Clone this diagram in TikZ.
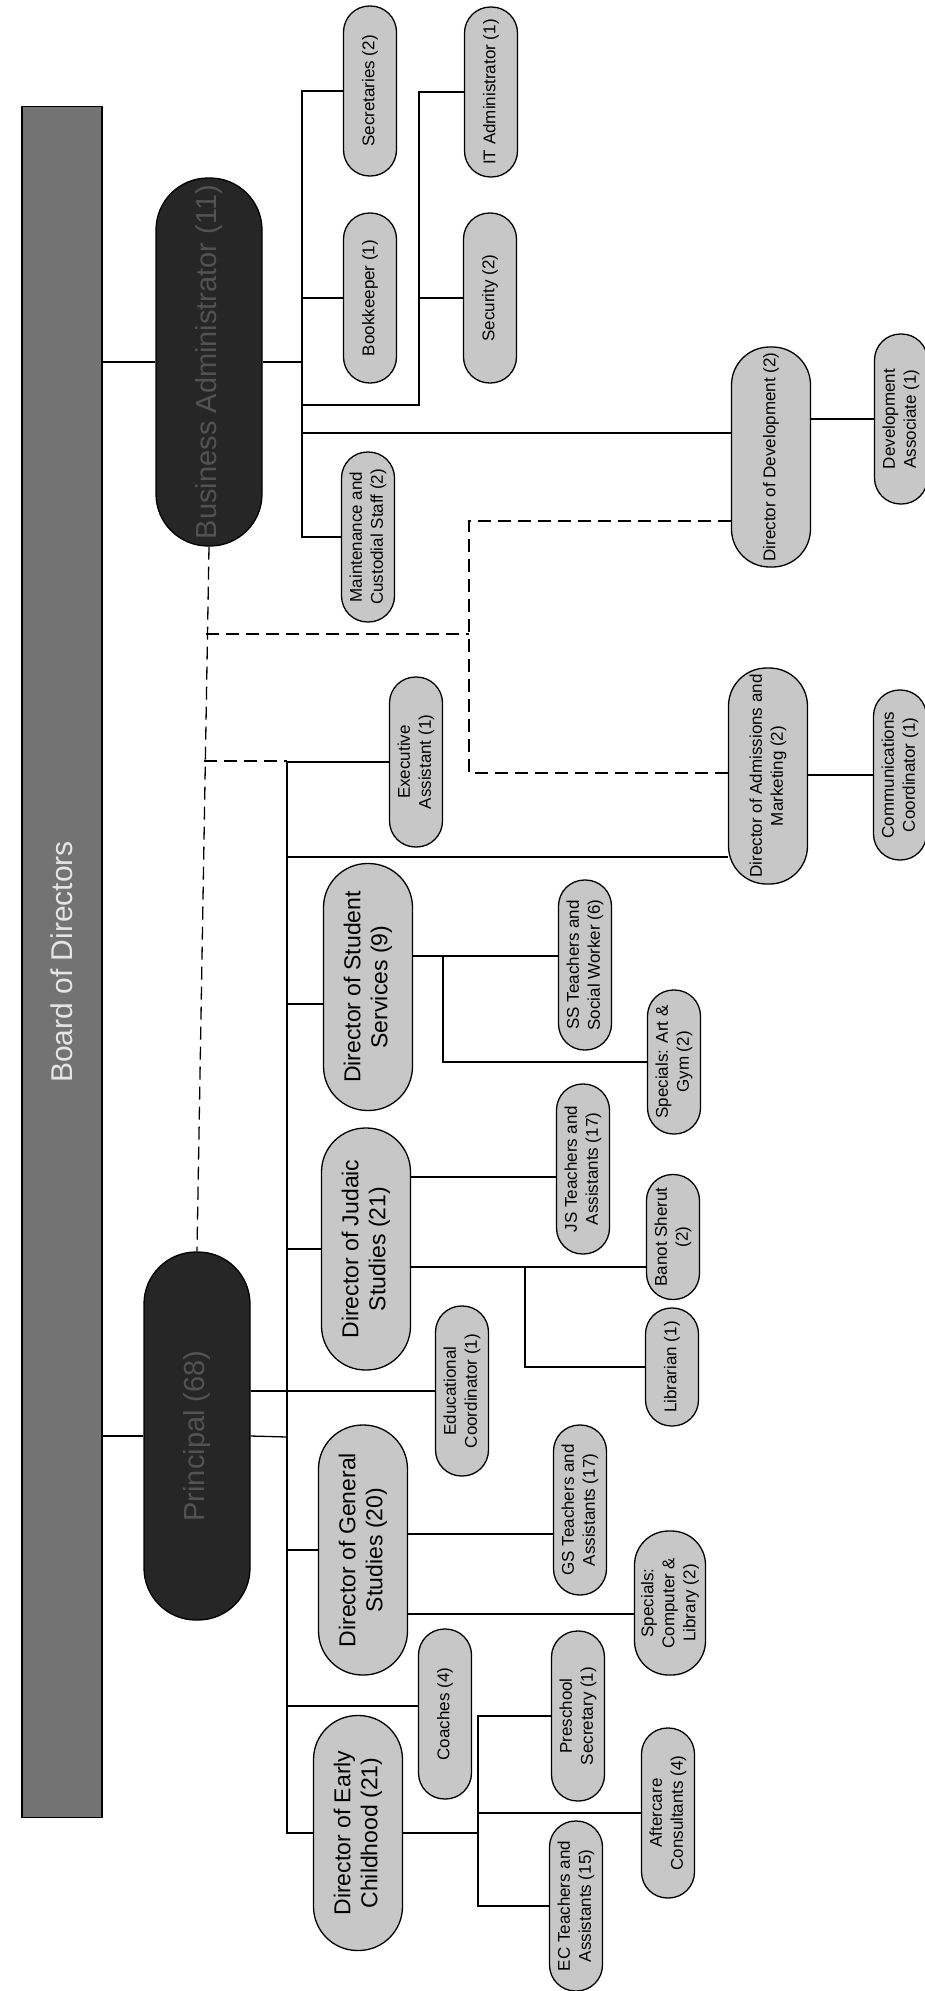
\documentclass[tikz,border=0pt]{standalone}
\usepackage{fontspec}
\setmainfont{Liberation Sans}
\usepackage{tikz}
\tikzset{
  staff/.style={draw,line width=1.3pt,fill=black!22,rotate=90,align=center,
    inner sep=1pt,rounded corners=26pt,minimum width=170pt,minimum height=53pt,
    font=\fontsize{17}{21}\selectfont},
  office/.style={staff,rounded corners=38pt,minimum width=220pt,minimum height=79pt},
  director/.style={staff,rounded corners=44pt,minimum width=247pt,minimum height=89pt,
    font=\fontsize{23}{27}\selectfont},
  chief/.style={staff,fill=black!85,text=black!68,inner sep=0pt,rounded corners=52pt,
    minimum width=368pt,minimum height=106pt,font=\fontsize{29}{33}\selectfont},
  boardbar/.style={draw,line width=1.3pt,fill=black!55,text=black!10,rotate=90,
    minimum width=1711pt,minimum height=80pt,font=\fontsize{30}{34}\selectfont},
  link/.style={line width=1.3pt},
  dashlink/.style={line width=1.3pt,dash pattern=on 13pt off 7pt}
}

\begin{document}
\begin{tikzpicture}[x=1pt,y=-1pt]
    \useasboundingbox (0,0) rectangle (924,1991);

    % board and the two heads
    \node[boardbar] (board) at (62,962) {Board of Directors};
    \node[chief] (busadmin) at (209,362) {Business Administrator (11)};
    \node[chief] (principal) at (197,1436) {Principal (68)};

    % business side
    \node[staff] (sec) at (370,91) {Secretaries (2)};
    \node[staff] (book) at (370,298) {Bookkeeper (1)};
    \node[staff] (itadmin) at (491,92) {IT Administrator (1)};
    \node[staff] (secu) at (490,298) {Security (2)};
    \node[staff] (maint) at (368,537) {Maintenance and\\Custodial Staff (2)};
    \node[office] (dirdev) at (771,457) {Director of Development (2)};
    \node[staff] (devassoc) at (901,419) {Development\\Associate (1)};
    \node[office,minimum width=216pt] (diradm) at (768,776)
        {Director of Admissions and\\Marketing (2)};
    \node[staff] (comms) at (900,775) {Communications\\Coordinator (1)};

    % school side
    \node[staff] (execasst) at (416,762) {Executive\\Assistant (1)};
    \node[director] (dirss) at (368,987) {Director of Student\\Services (9)};
    \node[staff] (ssteach) at (585,965) {SS Teachers and\\Social Worker (6)};
    \node[staff,minimum width=144pt] (artgym) at (674,1062) {Specials: Art \&\\Gym (2)};
    \node[director,minimum width=242pt] (dirjs) at (366,1249) {Director of Judaic\\Studies (21)};
    \node[staff] (jsteach) at (583,1169) {JS Teachers and\\Assistants (17)};
    \node[staff,minimum width=125pt] (banot) at (673,1237) {Banot Sherut\\(2)};
    \node[staff,minimum width=118pt] (librarian) at (672,1367) {Librarian (1)};
    \node[staff] (educ) at (462,1391) {Educational\\Coordinator (1)};
    \node[director,minimum width=250pt] (dirgs) at (363,1550) {Director of General\\Studies (20)};
    \node[staff] (gsteach) at (580,1510) {GS Teachers and\\Assistants (17)};
    \node[staff,minimum width=144pt,minimum height=71pt,rounded corners=34pt] (compspec)
        at (670,1603) {Specials:\\Computer \&\\Library (2)};
    \node[staff] (coaches) at (445,1714) {Coaches (4)};
    \node[director,minimum width=235pt] (direc) at (358,1833) {Director of Early\\Childhood (21)};
    \node[staff] (presec) at (578,1716) {Preschool\\Secretary (1)};
    \node[staff] (aftercare) at (668,1813) {Aftercare\\Consultants (4)};
    \node[staff] (ecteach) at (576,1906) {EC Teachers and\\Assistants (15)};

    % forks
    \coordinate (babus) at (302,362);
    \coordinate (itfork) at (419,405);
    \coordinate (dashfork) at (469,634);
    \coordinate (dashtop) at (206,634);
    \coordinate (dashlow) at (204,761);
    \coordinate (prbus) at (287,1437);
    \coordinate (ssfork) at (443,956);
    \coordinate (jsfork) at (525,1267);
    \coordinate (ecfork) at (478,1833);

    % business administrator
    \draw[link] (busadmin.north) -- (busadmin.north -| board.south);
    \draw[link] (busadmin.south) -- (babus);
    \foreach \n in {sec,book,maint}
        \draw[link] (babus) |- (\n.north);
    \draw[link] (babus) |- (itfork) |- (itadmin.north);
    \draw[link] (itfork) |- (secu.north);
    \draw[link] (babus) |- ([yshift=24pt]dirdev.north);
    \draw[link] (devassoc.north -| dirdev.south) -- (devassoc.north);
    \draw[link] (comms.north -| diradm.south) -- (comms.north);

    % dotted lines of reporting
    \draw[dashlink] (busadmin.west) -- (principal.east);
    \draw[dashlink] (dashtop) -- (dashfork);
    \draw[dashlink] ([yshift=-64pt]dirdev.north) -| (dashfork) |- ([yshift=3pt]diradm.north);
    \draw[dashlink] (dashlow) -- (dashlow -| prbus);

    % principal
    \draw[link] (principal.north) -- (principal.north -| board.south);
    \draw[link] (principal.south) -- (prbus);
    \draw[link] (prbus) |- (execasst.north);
    \draw[link] (prbus) |- ([yshift=-81pt]diradm.north);
    \draw[link] (prbus) |- ([yshift=-17pt]dirss.north);
    \foreach \n in {dirjs,dirgs,direc}
        \draw[link] (prbus) |- (\n.north);
    \draw[link] (prbus) |- ([yshift=8pt]coaches.north);
    \draw[link] (educ.north -| principal.south) -- (educ.north);

    % departments
    \draw[link] (dirss.south |- ssfork) -- (ssteach.north |- ssfork);
    \draw[link] (ssfork) |- (artgym.north);
    \draw[link] ([yshift=-8pt]jsteach.north -| dirjs.south) -- ([yshift=-8pt]jsteach.north);
    \draw[link] (jsfork -| dirjs.south) -- (jsfork -| banot.north);
    \draw[link] (jsfork) |- (librarian.north);
    \draw[link] ([yshift=16pt]dirgs.south) -- ([yshift=16pt]dirgs.south -| gsteach.north);
    \draw[link] ([yshift=-64pt]dirgs.south) -- ([yshift=-64pt]dirgs.south -| compspec.north);
    \draw[link] (direc.south) -- (ecfork);
    \foreach \n in {presec,aftercare,ecteach}
        \draw[link] (ecfork) |- (\n.north);
\end{tikzpicture}
\end{document}
